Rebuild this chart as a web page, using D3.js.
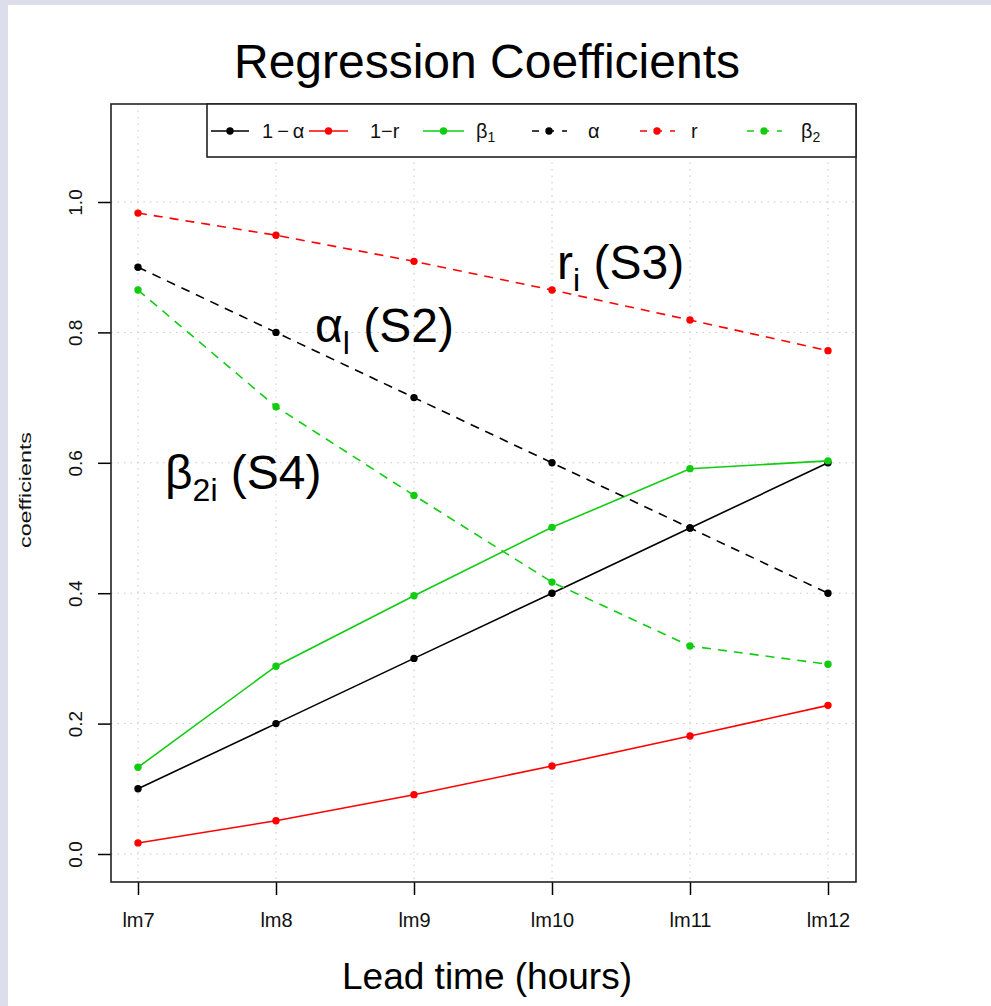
<!DOCTYPE html>
<html><head><meta charset="utf-8">
<script src="https://cdn.jsdelivr.net/npm/d3@7"></script>
<style>
html,body{margin:0;padding:0;background:#fff;}
svg{display:block;}
text{font-family:"Liberation Sans",Arial,Helvetica,sans-serif;}
</style></head>
<body>
<script>
const categories = ["lm7","lm8","lm9","lm10","lm11","lm12"];
const oneMinusAlpha = [0.10,0.20,0.30,0.40,0.50,0.60];
const oneMinusR = [0.017,0.051,0.091,0.135,0.181,0.228];
const beta1 = [0.133,0.288,0.396,0.501,0.591,0.603];
const alpha = [0.90,0.80,0.70,0.60,0.50,0.40];
const rVals = [0.983,0.949,0.909,0.865,0.819,0.772];
const beta2 = [0.865,0.686,0.550,0.417,0.319,0.291];
const yTicks = [0.0,0.2,0.4,0.6,0.8,1.0];

const series = [
  {key:"1-a", values:oneMinusAlpha, color:"#000000", dashed:false},
  {key:"1-r", values:oneMinusR, color:"#ff0000", dashed:false},
  {key:"b1", values:beta1, color:"#11cc11", dashed:false},
  {key:"a", values:alpha, color:"#000000", dashed:true},
  {key:"r", values:rVals, color:"#ff0000", dashed:true},
  {key:"b2", values:beta2, color:"#11cc11", dashed:true}
];

const W = 991, H = 1006;
const box = {l:111, r:856, t:104, b:882};
const svg = d3.select("body").append("svg").attr("width",W).attr("height",H);

// page frame
svg.append("rect").attr("x",0).attr("y",0).attr("width",W).attr("height",H).attr("fill","#fff");
svg.append("rect").attr("x",0).attr("y",0).attr("width",8).attr("height",H).attr("fill","#dcdfeb");
svg.append("rect").attr("x",0).attr("y",0).attr("width",W).attr("height",5).attr("fill","#dcdfeb");

const x = d3.scalePoint().domain(categories).range([138,828]);
const y = d3.scaleLinear().domain([0,1]).range([854,202]);

// grid
const grid = svg.append("g").attr("stroke","#c8c8c8").attr("stroke-width",1).attr("stroke-dasharray","1.5,5");
grid.selectAll("line.v").data(categories).join("line").attr("class","v")
  .attr("x1",d=>x(d)).attr("x2",d=>x(d)).attr("y1",box.t).attr("y2",box.b);
grid.selectAll("line.h").data(yTicks).join("line").attr("class","h")
  .attr("x1",box.l).attr("x2",box.r).attr("y1",d=>y(d)).attr("y2",d=>y(d));

// axes
const yAxis = svg.append("g").attr("transform",`translate(${box.l},0)`)
  .call(d3.axisLeft(y).tickValues(yTicks).tickFormat(d3.format(".1f")).tickSize(13).tickPadding(0));
yAxis.select(".domain").remove();
yAxis.selectAll(".tick line").attr("stroke","#000").attr("stroke-width",1.5);
yAxis.selectAll(".tick text").attr("transform","rotate(-90)").attr("x",0).attr("y",-29)
  .attr("text-anchor","middle").attr("dy","0").style("font-size","19px").attr("fill","#111");

const xAxis = svg.append("g").attr("transform",`translate(0,${box.b})`)
  .call(d3.axisBottom(x).tickSize(13).tickPadding(0));
xAxis.select(".domain").remove();
xAxis.selectAll(".tick line").attr("stroke","#000").attr("stroke-width",1.5);
xAxis.selectAll(".tick text").attr("y",45).attr("dy","0").style("font-size","20px").attr("fill","#111");

// lines
const line = d3.line().x((d,i)=>x(categories[i])).y(d=>y(d));
series.forEach(s=>{
  svg.append("path").datum(s.values).attr("d",line).attr("fill","none")
    .attr("stroke",s.color).attr("stroke-width",1.6)
    .attr("stroke-dasharray",s.dashed?"9,7":null);
  svg.selectAll(null).data(s.values).join("circle")
    .attr("cx",(d,i)=>x(categories[i])).attr("cy",d=>y(d)).attr("r",3.7).attr("fill",s.color);
});

// box
svg.append("rect").attr("x",box.l).attr("y",box.t).attr("width",box.r-box.l).attr("height",box.b-box.t)
  .attr("fill","none").attr("stroke","#222").attr("stroke-width",1.6);

// legend
const leg = svg.append("g");
leg.append("rect").attr("x",207).attr("y",box.t).attr("width",box.r-207).attr("height",53)
  .attr("fill","#fff").attr("stroke","#222").attr("stroke-width",1.6);
const legY = 131;
const legItems = [
  {s:series[0], x1:211, x2:249, label:"1\u2009\u2212\u2009α", lx:262},
  {s:series[1], x1:309, x2:348, label:"1\u2212r", lx:370},
  {s:series[2], x1:423, x2:464, label:"β", sub:"1", lx:476},
  {s:series[3], x1:531, x2:567, label:"α", lx:588},
  {s:series[4], x1:639, x2:675, label:"r", lx:691},
  {s:series[5], x1:746, x2:782, label:"β", sub:"2", lx:801}
];
legItems.forEach(it=>{
  leg.append("line").attr("x1",it.x1).attr("x2",it.x2).attr("y1",legY).attr("y2",legY)
    .attr("stroke",it.s.color).attr("stroke-width",1.6)
    .attr("stroke-dasharray",it.s.dashed?"7,8":null)
    .attr("stroke-dashoffset",it.s.dashed?-1:null);
  leg.append("circle").attr("cx",(it.x1+it.x2)/2).attr("cy",legY).attr("r",3.7).attr("fill",it.s.color);
  const t = leg.append("text").attr("x",it.lx).attr("y",legY+7).style("font-size","20px").attr("fill","#111");
  t.append("tspan").text(it.label);
  if(it.sub) t.append("tspan").attr("dy",4).style("font-size","14px").text(it.sub);
});

// titles
svg.append("text").attr("x",487).attr("y",78).attr("text-anchor","middle")
  .style("font-size","48px").attr("fill","#000").text("Regression Coefficients");
svg.append("text").attr("x",487).attr("y",989).attr("text-anchor","middle")
  .style("font-size","37px").attr("fill","#000").text("Lead time (hours)");
svg.append("text").attr("transform","translate(31,490) rotate(-90)").attr("text-anchor","middle")
  .attr("textLength",116).attr("lengthAdjust","spacingAndGlyphs")
  .style("font-size","17px").attr("fill","#111").text("coefficients");

// annotations
function annot(xp, yp, main, sub, rest){
  const t = svg.append("text").attr("x",xp).attr("y",yp).style("font-size","48px").attr("fill","#000");
  t.append("tspan").text(main);
  t.append("tspan").attr("dy",12).style("font-size","32px").text(sub);
  t.append("tspan").attr("dy",-12).text(rest);
}
annot(557, 279, "r", "i", " (S3)");
annot(315, 342, "α", "l", " (S2)");
annot(165, 489, "β", "2i", " (S4)");
</script>
</body></html>
